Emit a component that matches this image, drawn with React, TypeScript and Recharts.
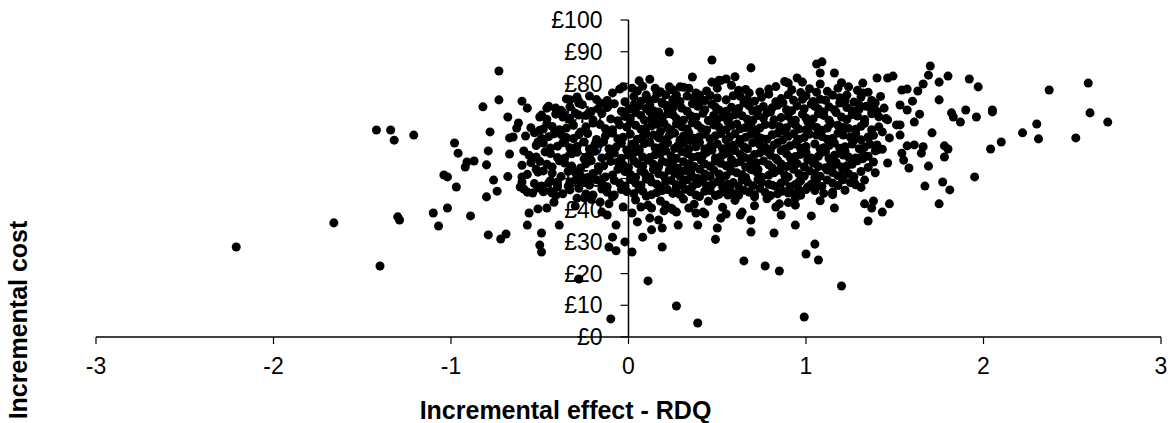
import React from 'react';
import { ScatterChart, Scatter, XAxis, YAxis, ZAxis, ReferenceLine } from 'recharts';

const FONT = '"Liberation Sans", Arial, Helvetica, sans-serif';

const effectTicks = [-3, -2, -1, 0, 1, 2, 3];
const costTicks = [0, 10, 20, 30, 40, 50, 60, 70, 80, 90, 100];

// [incremental effect, incremental cost] pairs
const leftTail: [number, number][] = [
  [-2.21, 28.4], [-1.66, 36.0], [-1.40, 22.4], [-1.42, 65.3], [-1.34, 65.3], [-1.32, 62.1],
  [-1.21, 63.7], [-1.29, 36.9], [-1.30, 37.9],
];

const leftSpread: [number, number][] = [
  [-1.10, 39.1], [-1.02, 40.7], [-1.07, 35.0], [-0.89, 38.2], [-0.97, 47.3], [-0.80, 44.2],
  [-0.74, 46.0], [-0.79, 32.2], [-0.72, 30.9], [-0.69, 32.5], [-0.57, 35.3], [-0.56, 39.1],
  [-0.51, 40.4], [-0.46, 40.7], [-0.49, 32.8], [-0.50, 29.0], [-0.49, 26.8], [-0.39, 35.3],
  [-0.98, 61.2], [-0.96, 58.0], [-0.91, 55.2], [-0.92, 53.6], [-1.04, 51.1], [-1.02, 50.5],
  [-0.87, 55.5], [-0.80, 54.3], [-0.79, 58.7], [-0.78, 64.7], [-0.82, 72.6], [-0.73, 74.8],
  [-0.73, 83.9], [-0.68, 69.4], [-0.62, 67.5], [-0.63, 65.9], [-0.65, 63.1], [-0.67, 62.8],
  [-0.67, 57.7], [-0.59, 58.7], [-0.60, 74.4], [-0.57, 72.2], [-0.68, 50.6], [-0.76, 49.5],
  [-0.61, 47.3], [-0.57, 45.7], [-0.54, 45.4], [-0.48, 46.3], [-0.43, 45.4], [-0.40, 47.3],
  [-0.60, 48.9], [-0.59, 46.7], [-0.60, 50.5], [-0.51, 52.0], [-0.51, 47.0], [-0.45, 48.6],
  [-0.49, 70.0], [-0.46, 72.2], [-0.48, 65.6], [-0.51, 61.5], [-0.41, 72.2], [-0.33, 74.8],
  [-0.29, 75.7], [-0.28, 73.8], [-0.37, 70.7],
];

const lowTail: [number, number][] = [
  [-0.28, 18.3], [-0.10, 5.7], [-0.11, 28.4], [-0.07, 27.2], [-0.09, 31.5], [-0.07, 35.3],
  [-0.02, 30.0], [0.02, 26.8], [0.11, 17.7], [0.27, 9.8], [0.39, 4.4], [0.99, 6.3],
  [1.20, 16.1], [0.65, 24.0], [0.77, 22.4], [0.85, 20.8], [1.00, 26.2], [1.05, 29.3],
  [1.07, 24.3], [0.94, 35.3], [1.03, 38.2], [0.82, 32.8], [0.69, 33.1], [0.69, 36.9],
  [0.49, 30.8], [0.50, 34.4], [0.39, 35.3], [0.19, 28.4], [0.19, 34.4], [0.28, 35.3],
  [0.08, 31.5], [0.13, 33.8], [0.05, 36.3], [0.12, 37.5], [0.17, 36.9], [0.02, 39.1],
  [0.07, 41.0], [0.13, 40.7], [0.21, 41.6], [0.27, 39.4], [0.34, 40.7], [0.42, 39.4],
  [0.38, 39.1], [0.25, 40.1], [0.52, 37.5], [0.55, 38.8], [0.63, 38.5], [0.64, 39.4],
  [0.83, 41.0], [0.86, 38.5], [0.94, 41.6], [0.90, 45.4], [0.85, 42.0], [0.94, 43.8],
  [1.16, 40.7], [1.15, 45.7], [-0.16, 42.6], [-0.15, 39.4], [-0.12, 38.5], [-0.09, 44.2],
  [-0.29, 43.8], [-0.25, 43.9], [-0.33, 48.9], [-0.40, 47.9],
];

const rightCluster: [number, number][] = [
  [1.35, 36.6], [1.33, 42.0], [1.38, 42.9], [1.43, 39.4], [1.47, 42.0], [1.37, 40.7],
  [1.53, 73.2], [1.51, 66.9], [1.46, 54.9], [1.38, 55.2], [1.40, 59.0], [1.31, 56.5],
  [1.43, 64.7], [1.46, 68.5], [1.44, 72.2], [1.39, 73.8], [1.37, 71.6], [1.30, 73.2],
  [1.32, 77.0], [1.23, 76.3], [1.18, 78.5], [1.33, 67.8], [1.35, 63.1], [1.27, 62.1],
  [1.21, 57.4], [1.26, 55.2], [1.16, 54.3], [1.11, 58.4], [1.05, 54.9], [1.20, 50.2],
  [1.27, 48.9], [1.33, 49.5], [1.05, 50.2], [0.96, 48.9], [0.96, 46.4], [0.81, 47.9],
  [0.71, 44.2], [0.56, 44.8],
];

const rightTail: [number, number][] = [
  [2.59, 80.1], [2.37, 77.9], [2.60, 70.7], [2.70, 67.8], [2.52, 62.8], [2.31, 62.5],
  [2.30, 67.2], [2.22, 64.4], [2.10, 61.5], [2.04, 59.3], [2.05, 71.6], [2.05, 71.0],
  [1.95, 50.5], [1.97, 78.9], [1.92, 81.4], [1.80, 82.3], [1.75, 80.4], [1.70, 85.5],
  [1.69, 82.6], [1.66, 79.8], [1.63, 77.6], [1.57, 78.2], [1.54, 77.9], [1.60, 74.4],
  [1.75, 74.8], [1.57, 71.6], [1.64, 70.3], [1.82, 70.7], [1.83, 69.4], [1.90, 71.6],
  [1.96, 69.4], [1.87, 67.8], [1.61, 67.8], [1.53, 66.9], [1.53, 63.7], [1.71, 64.4],
  [1.57, 60.3], [1.61, 60.6], [1.66, 60.0], [1.65, 58.0], [1.54, 58.0], [1.55, 55.8],
  [1.58, 53.3], [1.69, 53.9], [1.78, 56.8], [1.78, 60.3], [1.80, 59.3], [1.67, 47.6],
  [1.77, 48.9], [1.81, 46.4], [1.75, 42.0],
];

const topEdge: [number, number][] = [
  [0.23, 89.9], [0.47, 87.4], [0.69, 84.9], [1.06, 86.1], [1.09, 86.8], [1.08, 83.3],
  [1.16, 83.3], [1.08, 79.8], [0.95, 81.7], [0.98, 80.4], [0.90, 80.1], [1.40, 81.7],
  [1.46, 81.7], [1.49, 82.3], [1.32, 80.1], [0.36, 82.0], [0.47, 80.4], [0.51, 81.0],
  [0.55, 81.4], [0.50, 78.5], [0.06, 80.8], [-0.03, 78.9], [0.02, 78.5], [-0.09, 77.0],
  [0.10, 76.3], [0.15, 78.5], [0.17, 77.0], [0.23, 78.9], [0.29, 78.9], [0.27, 76.3],
  [0.34, 78.5], [0.40, 76.3], [0.12, 73.2], [0.19, 74.1], [0.22, 72.2], [-0.11, 73.2],
  [-0.16, 73.8],
];

const coreUpper: [number, number][] = [
  [-0.05, 78.2], [0.08, 79.1], [0.18, 77.4], [0.31, 78.8], [0.44, 77.6], [0.58, 79.4],
  [0.66, 78.1], [0.74, 77.3], [0.83, 79.0], [1.02, 78.3], [1.12, 77.5], [1.24, 78.9],
  [1.35, 77.2], [0.52, 80.9], [0.88, 80.6], [0.12, 81.3], [1.20, 80.2], [0.60, 82.1],
  [-0.35, 75.1], [-0.22, 76.0], [-0.12, 74.6], [0.03, 75.8], [0.11, 74.9], [0.21, 76.4],
  [0.29, 74.3], [0.37, 75.5], [0.46, 76.2], [0.55, 74.8], [0.63, 75.9], [0.71, 74.4],
  [0.79, 76.6], [0.86, 75.2], [0.93, 74.7], [1.00, 76.1], [1.08, 75.0], [1.15, 76.3],
  [1.22, 74.6], [1.31, 75.7], [1.42, 75.9], [0.16, 76.9], [0.68, 77.0], [0.97, 77.1],
  [0.40, 73.9],
  [-0.45, 72.8], [-0.38, 71.5], [-0.26, 73.3], [-0.17, 72.0], [-0.08, 73.6], [0.00, 71.8],
  [0.06, 72.9], [0.14, 71.4], [0.19, 73.7], [0.25, 72.3], [0.33, 71.2], [0.39, 72.8],
  [0.47, 73.4], [0.51, 71.6], [0.58, 72.5], [0.65, 73.8], [0.70, 71.3], [0.76, 72.7],
  [0.84, 73.1], [0.89, 71.7], [0.95, 72.9], [1.03, 73.5], [1.07, 71.9], [1.13, 72.6],
  [1.19, 73.8], [1.26, 71.4], [1.34, 72.8], [1.40, 71.1], [0.28, 74.0], [0.80, 71.0],
  [-0.30, 70.6],
  [-0.50, 69.4], [-0.41, 70.3], [-0.33, 68.6], [-0.24, 69.9], [-0.15, 70.5], [-0.10, 68.8],
  [-0.02, 69.6], [0.04, 70.8], [0.09, 68.4], [0.16, 69.7], [0.22, 70.4], [0.27, 68.9],
  [0.35, 69.8], [0.42, 70.6], [0.45, 68.3], [0.53, 69.5], [0.60, 70.2], [0.67, 68.7],
  [0.73, 69.9], [0.78, 70.7], [0.82, 68.5], [0.90, 69.6], [0.98, 70.3], [1.04, 68.8],
  [1.10, 69.9], [1.17, 70.8], [1.23, 68.6], [1.29, 69.7], [1.37, 70.4], [1.45, 68.9],
  [0.12, 71.0], [0.56, 68.0], [1.01, 67.9],
];

const coreMiddle: [number, number][] = [
  [-0.55, 66.0], [-0.46, 67.3], [-0.39, 65.4], [-0.31, 66.8], [-0.20, 67.5], [-0.13, 65.7],
  [-0.05, 66.9], [0.01, 67.7], [0.07, 65.5], [0.13, 66.6], [0.20, 67.4], [0.24, 65.2],
  [0.30, 66.3], [0.36, 67.6], [0.41, 65.8], [0.48, 66.9], [0.55, 65.4], [0.61, 67.2],
  [0.66, 66.1], [0.72, 65.3], [0.77, 67.0], [0.85, 66.4], [0.92, 67.6], [0.96, 65.6],
  [1.03, 66.7], [1.09, 65.2], [1.14, 67.3], [1.21, 66.1], [1.28, 65.5], [1.33, 67.4],
  [1.41, 66.3], [0.18, 64.8], [0.88, 64.9], [-0.27, 64.7],
  [-0.58, 63.4], [-0.49, 62.6], [-0.42, 64.1], [-0.35, 62.9], [-0.28, 63.8], [-0.18, 62.3],
  [-0.09, 64.3], [-0.03, 63.0], [0.05, 62.4], [0.10, 64.0], [0.17, 62.8], [0.23, 63.6],
  [0.29, 62.1], [0.34, 64.4], [0.40, 63.2], [0.46, 62.5], [0.52, 64.2], [0.57, 63.1],
  [0.63, 62.3], [0.69, 64.0], [0.75, 62.7], [0.81, 63.8], [0.87, 62.2], [0.93, 64.1],
  [0.99, 62.9], [1.06, 63.7], [1.12, 62.4], [1.18, 64.3], [1.25, 63.0], [1.31, 62.2],
  [1.38, 63.6], [1.47, 62.8], [-0.14, 61.6], [0.72, 61.5],
  [-0.52, 60.4], [-0.44, 59.6], [-0.37, 61.3], [-0.29, 60.1], [-0.22, 59.3], [-0.16, 61.0],
  [-0.07, 59.9], [0.02, 60.8], [0.06, 59.2], [0.12, 61.4], [0.19, 60.2], [0.26, 59.5],
  [0.31, 61.1], [0.38, 60.0], [0.43, 59.3], [0.50, 60.9], [0.56, 59.8], [0.62, 61.2],
  [0.67, 59.4], [0.74, 60.6], [0.80, 59.1], [0.84, 61.3], [0.91, 60.3], [0.97, 59.5],
  [1.05, 60.9], [1.10, 59.7], [1.16, 61.2], [1.22, 60.0], [1.30, 59.4], [1.36, 60.8],
  [1.43, 59.2], [0.35, 62.0], [0.95, 61.8],
];

const coreLower: [number, number][] = [
  [-0.56, 57.3], [-0.47, 58.4], [-0.40, 56.6], [-0.32, 57.8], [-0.25, 56.2], [-0.19, 58.6],
  [-0.11, 57.1], [-0.04, 56.4], [0.03, 58.1], [0.08, 56.8], [0.15, 57.5], [0.21, 58.7],
  [0.27, 56.3], [0.33, 57.9], [0.39, 56.9], [0.44, 58.3], [0.49, 56.5], [0.54, 57.7],
  [0.60, 58.8], [0.65, 56.7], [0.71, 57.6], [0.78, 58.5], [0.83, 56.4], [0.89, 57.8],
  [0.94, 56.9], [1.00, 58.2], [1.07, 57.0], [1.13, 56.3], [1.19, 58.0], [1.24, 56.8],
  [1.32, 57.6], [1.39, 58.7], [-0.01, 59.0], [0.58, 55.9],
  [-0.60, 54.2], [-0.50, 55.4], [-0.43, 53.6], [-0.36, 54.9], [-0.27, 53.3], [-0.21, 55.6],
  [-0.14, 54.0], [-0.06, 55.2], [0.00, 53.5], [0.05, 54.7], [0.11, 55.8], [0.17, 53.8],
  [0.22, 55.0], [0.28, 53.2], [0.34, 54.6], [0.41, 55.7], [0.46, 53.9], [0.52, 54.8],
  [0.57, 53.4], [0.63, 55.3], [0.69, 54.1], [0.76, 55.5], [0.81, 53.3], [0.86, 54.6],
  [0.92, 55.4], [0.99, 53.7], [1.04, 54.9], [1.11, 53.4], [1.17, 55.1], [1.23, 54.0],
  [1.29, 55.6], [1.35, 53.5], [0.25, 56.0], [0.73, 52.8],
  [-0.57, 51.3], [-0.48, 52.4], [-0.38, 50.6], [-0.30, 51.9], [-0.23, 50.3], [-0.17, 52.6],
  [-0.09, 51.1], [-0.02, 52.2], [0.04, 50.4], [0.09, 51.7], [0.14, 52.8], [0.20, 50.8],
  [0.26, 51.6], [0.32, 52.5], [0.37, 50.2], [0.43, 51.4], [0.48, 52.7], [0.55, 50.9],
  [0.61, 51.8], [0.66, 50.3], [0.72, 52.1], [0.79, 51.0], [0.85, 52.6], [0.90, 50.5],
  [0.96, 51.5], [1.02, 52.4], [1.08, 50.7], [1.15, 51.9], [1.21, 52.8], [1.27, 50.6],
  [1.39, 51.8], [0.52, 49.8],
];

const coreBase: [number, number][] = [
  [-0.53, 48.4], [-0.44, 49.3], [-0.34, 47.6], [-0.26, 48.8], [-0.18, 49.6], [-0.12, 47.4],
  [-0.05, 48.5], [0.01, 49.7], [0.07, 47.9], [0.13, 48.9], [0.18, 47.3], [0.24, 49.4],
  [0.30, 48.1], [0.36, 47.5], [0.42, 49.1], [0.47, 48.0], [0.53, 47.4], [0.59, 48.7],
  [0.64, 49.6], [0.70, 47.7], [0.75, 48.8], [0.83, 47.5], [0.88, 49.2], [0.94, 48.1],
  [1.01, 47.3], [1.06, 48.6], [1.12, 49.5], [1.18, 47.8], [1.25, 48.7], [1.31, 47.2],
  [0.39, 50.0],
  [-0.48, 45.8], [-0.41, 44.6], [-0.33, 46.4], [-0.24, 45.1], [-0.15, 46.7], [-0.08, 44.8],
  [-0.01, 45.9], [0.06, 46.8], [0.10, 44.5], [0.16, 45.6], [0.22, 46.5], [0.29, 44.9],
  [0.35, 45.8], [0.40, 44.3], [0.46, 46.2], [0.51, 45.0], [0.57, 46.6], [0.62, 44.7],
  [0.68, 45.7], [0.74, 46.9], [0.80, 44.6], [0.87, 46.0], [0.93, 45.2], [1.00, 46.5],
  [1.10, 45.3], [1.22, 46.3], [0.27, 47.1],
  [-0.42, 42.5], [-0.30, 41.3], [-0.21, 43.4], [-0.11, 42.0], [-0.03, 41.0], [0.04, 43.2],
  [0.11, 41.6], [0.18, 42.9], [0.24, 40.6], [0.31, 43.5], [0.37, 41.9], [0.45, 42.8],
  [0.53, 40.9], [0.60, 43.1], [0.71, 41.4], [0.78, 43.6], [0.90, 42.4], [1.08, 43.0],
  [0.20, 39.8], [0.43, 38.9],
];

const coreFillHigh: [number, number][] = [
  [0.05, 77.6], [0.25, 77.9], [0.38, 77.0], [0.62, 77.8], [0.79, 78.2], [0.92, 78.0],
  [1.06, 77.2], [1.29, 77.8],
  [-0.28, 74.3], [-0.18, 74.9], [-0.02, 74.2], [0.07, 74.4], [0.15, 75.2], [0.25, 74.9],
  [0.33, 76.0], [0.43, 74.6], [0.50, 75.4], [0.59, 76.1], [0.67, 74.9], [0.75, 75.6],
  [0.83, 74.2], [0.90, 76.4], [0.98, 75.0], [1.04, 74.3], [1.11, 74.7], [1.19, 75.5],
  [1.27, 74.1], [1.37, 74.6],
  [-0.41, 71.9], [-0.33, 72.6], [-0.21, 71.1], [-0.12, 72.4], [-0.04, 71.2], [0.03, 73.3],
  [0.10, 72.1], [0.17, 71.0], [0.22, 73.0], [0.30, 72.2], [0.36, 73.6], [0.43, 71.7],
  [0.49, 72.5], [0.55, 71.2], [0.62, 72.1], [0.68, 72.9], [0.73, 71.8], [0.81, 72.3],
  [0.87, 73.9], [0.92, 71.4], [0.99, 72.0], [1.05, 72.8], [1.10, 71.0], [1.16, 71.7],
  [1.23, 72.4], [1.30, 71.9], [1.37, 73.3],
  [-0.46, 68.7], [-0.37, 69.4], [-0.28, 70.0], [-0.20, 68.5], [-0.06, 68.2], [0.01, 69.0],
  [0.07, 69.9], [0.13, 68.7], [0.19, 69.2], [0.25, 70.1], [0.31, 68.4], [0.38, 69.3],
  [0.48, 69.9], [0.50, 68.6], [0.57, 69.4], [0.64, 69.8], [0.70, 68.3], [0.76, 69.1],
  [0.86, 69.2], [0.94, 68.4], [1.00, 69.1], [1.07, 70.4], [1.13, 68.4], [1.20, 69.4],
  [1.26, 70.2], [1.33, 68.6], [1.41, 69.5],
  [-0.50, 65.2], [-0.43, 66.4], [-0.35, 65.9], [-0.24, 66.3], [-0.16, 67.0], [-0.09, 65.4],
  [-0.01, 66.2], [0.04, 66.8], [0.10, 65.9], [0.16, 67.1], [0.22, 66.0], [0.27, 67.2],
  [0.33, 65.6], [0.39, 66.8], [0.44, 65.3], [0.51, 66.2], [0.58, 66.7], [0.63, 65.7],
  [0.69, 66.6], [0.74, 65.9], [0.81, 66.9], [0.89, 66.0], [0.94, 66.9], [1.00, 65.4],
  [1.06, 66.1], [1.12, 65.9], [1.18, 66.8], [1.24, 65.8], [1.31, 66.5], [1.37, 65.4],
  [-0.53, 64.4], [-0.45, 63.2], [-0.38, 63.9], [-0.31, 62.6], [-0.23, 64.2], [-0.13, 63.4],
  [-0.06, 62.5], [0.01, 64.0], [0.08, 63.1], [0.14, 63.7], [0.20, 62.2], [0.26, 64.3],
  [0.31, 63.4], [0.37, 62.7], [0.43, 64.0], [0.49, 63.5], [0.55, 62.2], [0.60, 64.1],
  [0.66, 63.0], [0.72, 63.9], [0.78, 62.4], [0.84, 64.3], [0.90, 63.3], [0.96, 62.4],
  [1.02, 64.0], [1.09, 63.2], [1.15, 62.6], [1.21, 63.7], [1.28, 64.2], [1.35, 62.9],
];

const coreFillLow: [number, number][] = [
  [-0.48, 61.2], [-0.40, 60.2], [-0.33, 59.7], [-0.25, 61.5], [-0.19, 60.4], [-0.11, 59.4],
  [-0.04, 61.1], [0.04, 60.0], [0.09, 61.0], [0.15, 59.7], [0.22, 61.2], [0.28, 60.4],
  [0.34, 59.3], [0.40, 61.4], [0.46, 60.2], [0.53, 59.4], [0.59, 60.5], [0.65, 60.0],
  [0.70, 61.3], [0.77, 59.8], [0.82, 60.6], [0.88, 59.4], [0.94, 60.9], [1.00, 60.1],
  [1.08, 59.3], [1.13, 60.4], [1.19, 59.5], [1.26, 60.9], [1.33, 59.9], [1.40, 60.6],
  [-0.52, 56.8], [-0.44, 57.9], [-0.36, 56.4], [-0.29, 58.3], [-0.22, 57.2], [-0.15, 56.5],
  [-0.08, 58.0], [0.00, 57.4], [0.06, 58.5], [0.12, 56.6], [0.18, 57.9], [0.24, 57.2],
  [0.30, 58.5], [0.36, 56.7], [0.42, 57.4], [0.47, 58.9], [0.52, 56.9], [0.57, 58.2],
  [0.63, 57.6], [0.68, 56.2], [0.74, 58.1], [0.80, 57.3], [0.86, 58.8], [0.91, 56.7],
  [0.97, 57.6], [1.03, 56.5], [1.10, 58.4], [1.16, 57.3], [1.22, 58.6], [1.28, 56.5],
  [1.35, 57.0],
  [-0.55, 55.0], [-0.46, 54.5], [-0.39, 55.6], [-0.32, 53.9], [-0.24, 54.6], [-0.17, 53.7],
  [-0.10, 55.4], [-0.03, 54.3], [0.03, 55.6], [0.08, 53.9], [0.14, 54.5], [0.19, 55.4],
  [0.25, 54.2], [0.31, 55.3], [0.37, 53.8], [0.43, 54.6], [0.49, 55.5], [0.55, 54.0],
  [0.60, 54.9], [0.66, 53.6], [0.72, 55.0], [0.79, 54.3], [0.84, 55.8], [0.89, 53.8],
  [0.95, 54.7], [1.01, 55.9], [1.07, 53.8], [1.14, 54.6], [1.20, 53.6], [1.26, 54.5],
  [1.32, 56.2],
  [-0.52, 52.9], [-0.43, 51.7], [-0.34, 52.3], [-0.27, 50.9], [-0.20, 51.6], [-0.13, 50.5],
  [-0.06, 52.9], [0.01, 51.3], [0.07, 52.4], [0.12, 50.4], [0.17, 51.5], [0.23, 52.6],
  [0.29, 50.7], [0.35, 51.9], [0.40, 52.9], [0.46, 50.6], [0.51, 51.4], [0.58, 52.4],
  [0.64, 51.2], [0.69, 52.8], [0.75, 50.5], [0.82, 51.8], [0.88, 51.1], [0.93, 52.9],
  [0.99, 50.8], [1.05, 51.6], [1.12, 52.7], [1.18, 50.9], [1.24, 51.5], [1.31, 52.2],
  [-0.49, 47.6], [-0.40, 48.9], [-0.30, 49.5], [-0.22, 47.9], [-0.15, 48.6], [-0.08, 49.4],
  [-0.02, 47.6], [0.04, 48.6], [0.10, 49.8], [0.16, 48.2], [0.21, 49.1], [0.27, 48.0],
  [0.33, 49.6], [0.39, 48.4], [0.44, 47.6], [0.50, 49.0], [0.56, 48.2], [0.62, 47.5],
  [0.67, 48.9], [0.73, 49.7], [0.79, 48.2], [0.86, 48.6], [0.91, 47.4], [0.97, 49.3],
  [1.03, 48.2], [1.09, 47.5], [1.15, 48.6], [1.21, 49.6], [1.28, 48.0],
  [-0.44, 46.0], [-0.37, 45.2], [-0.28, 46.9], [-0.20, 44.8], [-0.12, 45.7], [-0.04, 46.5],
  [0.03, 45.2], [0.08, 46.0], [0.13, 44.9], [0.19, 46.2], [0.25, 45.3], [0.32, 46.6],
  [0.38, 44.8], [0.43, 46.0], [0.49, 44.6], [0.54, 45.8], [0.60, 45.1], [0.65, 46.3],
  [0.71, 44.9], [0.77, 45.6], [0.84, 45.2], [0.97, 44.7], [1.05, 46.2], [1.15, 44.9],
];

const allPoints = [
  ...leftTail, ...leftSpread, ...lowTail, ...rightCluster, ...rightTail, ...topEdge,
  ...coreUpper, ...coreMiddle, ...coreLower, ...coreBase, ...coreFillHigh, ...coreFillLow,
].map(([x, y]) => ({ x, y }));

const App: React.FC = () => {
  return (
    <div style={{ position: 'absolute', left: 0, top: 0, width: 1174, height: 423, background: '#fff' }}>
      <ScatterChart
        width={1174}
        height={423}
        margin={{ top: 20, right: 13, left: 96, bottom: 56 }}
      >
        <XAxis
          type="number"
          dataKey="x"
          domain={[-3, 3]}
          ticks={effectTicks}
          interval={0}
          height={30}
          tickSize={7}
          tickMargin={14}
          axisLine={{ stroke: '#000', strokeWidth: 1.5 }}
          tickLine={{ stroke: '#000', strokeWidth: 1.2 }}
          tick={{ fill: '#000', fontSize: 23, fontFamily: FONT }}
          label={{
            value: 'Incremental effect - RDQ',
            position: 'bottom',
            offset: 34,
            dx: -63,
            fill: '#000',
            fontSize: 25,
            fontWeight: 'bold',
            fontFamily: FONT,
          }}
        />
        <YAxis type="number" dataKey="y" domain={[0, 100]} hide width={0} />
        <ZAxis type="number" range={[42, 42]} />
        <ReferenceLine x={0} stroke="#000" strokeWidth={1.5} />
        {costTicks.map((c) => (
          <ReferenceLine
            key={c}
            segment={[{ x: -0.045, y: c }, { x: 0, y: c }]}
            stroke="#000"
            strokeWidth={1.2}
            label={{
              value: `£${c}`,
              position: 'left',
              offset: 18,
              fill: '#000',
              fontSize: 23,
              fontFamily: FONT,
            }}
          />
        ))}
        <Scatter data={allPoints} fill="#000" shape="circle" isAnimationActive={false} />
      </ScatterChart>
      <svg width={60} height={423} style={{ position: 'absolute', left: 0, top: 0 }}>
        <text
          transform="translate(27, 320) rotate(-90)"
          textAnchor="middle"
          fill="#000"
          fontSize={25}
          fontWeight="bold"
          fontFamily={FONT}
        >
          Incremental cost
        </text>
      </svg>
    </div>
  );
};

export default App;
